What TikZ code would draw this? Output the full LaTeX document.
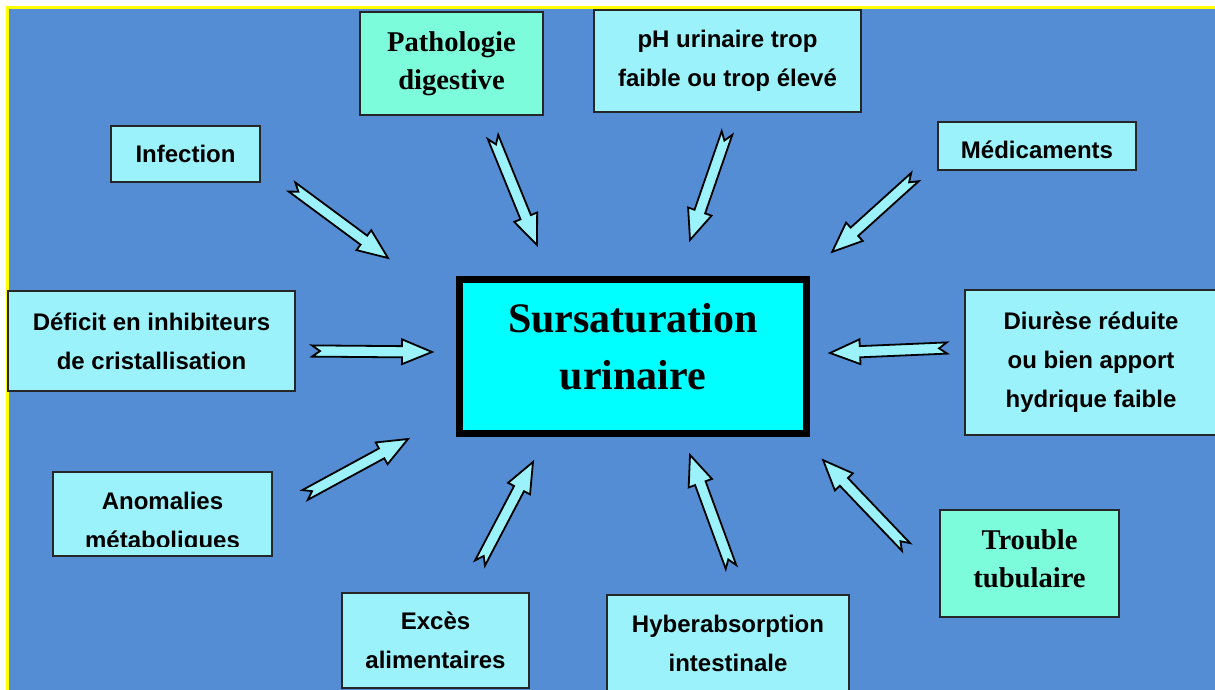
\documentclass[tikz,border=0pt]{standalone}
\usepackage{fontspec}
\setmainfont{Liberation Sans}
\newfontfamily\serifbf{Liberation Serif}
\usetikzlibrary{calc}

\definecolor{fondbleu}{RGB}{85,141,212}
\definecolor{boxcyan}{RGB}{155,242,250}
\definecolor{boxvert}{RGB}{125,252,220}
\definecolor{centrecyan}{RGB}{0,255,255}
\definecolor{cadrejaune}{RGB}{255,255,0}

\tikzset{
  boite/.style={draw=black!85, line width=0.9pt, fill=boxcyan, align=center, inner sep=0pt,
    font=\bfseries\fontsize{12}{19.5}\selectfont},
  boiteserif/.style={boite, fill=boxvert, font=\serifbf\bfseries\fontsize{14.3}{19}\selectfont},
  centre/.style={draw=black, line width=3.5pt, fill=centrecyan, align=center, inner sep=0pt,
    font=\serifbf\bfseries\fontsize{21}{28.5}\selectfont},
  flechestyle/.style={fill=boxcyan, draw=black, line width=0.9pt, line join=miter}
}

% fleche pleine a queue fendue, de #1 vers #2
\newcommand{\fleche}[2]{%
  \path let \p1=($(#2)-(#1)$) in
    \pgfextra{\pgfmathsetmacro{\flen}{veclen(\x1,\y1)}\pgfmathsetmacro{\fang}{atan2(\y1,\x1)}%
      \xdef\flen{\flen}\xdef\fang{\fang}};
  \draw[flechestyle, shift={(#1)}, rotate=\fang]
    (0pt,2.8pt) -- ({\flen*1pt-15pt},2.8pt) -- ({\flen*1pt-15pt},6.2pt) -- ({\flen*1pt},0pt)
    -- ({\flen*1pt-15pt},-6.2pt) -- ({\flen*1pt-15pt},-2.8pt) -- (0pt,-2.8pt) -- (4pt,0pt) -- cycle;
}

\begin{document}
\begin{tikzpicture}[x=0.5pt,y=-0.5pt]
\useasboundingbox (0,0) rectangle (1215,690);
\clip (0,0) rectangle (1215,690);

%fond
\fill[white] (0,0) rectangle (1215,690);
\draw[cadrejaune, line width=1.5pt, fill=fondbleu] (7.5,7.5) rectangle (1230,705);

%centre
\node[centre, minimum width=173.5pt, minimum height=77pt] (sursat) at (633,356.5) {};
\node[centre, draw=none, fill=none] (sursat-txt) at ([yshift=5pt]sursat.center) {Sursaturation\\urinaire};

%causes
\node[boiteserif, minimum width=91.5pt, minimum height=51.5pt] (patho) at (451.5,63.5) {Pathologie\\digestive};
\node[boite, minimum width=133.5pt, minimum height=51pt] (ph) at (727.5,61) {pH urinaire trop\\faible ou trop élevé};
\node[boite, minimum width=74.5pt, minimum height=28pt] (infection) at (185.5,154) {Infection};
\node[boite, minimum width=99pt, minimum height=24pt, text height=12pt, text depth=0pt] (medic) at (1037,146) {Médicaments};
\node[boite, minimum width=143.5pt, minimum height=50pt] (deficit) at (151.5,341) {Déficit en inhibiteurs\\de cristallisation};
\node[boite, minimum width=126pt, minimum height=72.5pt] (diurese) at (1091,362.5) {Diurèse réduite\\ou bien apport\\hydrique faible};
\node[boite, minimum width=109.5pt, minimum height=42pt] (anomalies) at (162.5,514) {};
\begin{scope}
\clip (anomalies.north west) rectangle ([yshift=5pt]anomalies.south east);
\node[boite, draw=none, fill=none] (anomalies-txt) at ([yshift=-4.5pt]anomalies.center) {Anomalies\\métaboliques};
\end{scope}
\node[boite, minimum width=93.5pt, minimum height=47.5pt] (exces) at (435.5,640.5) {Excès\\alimentaires};
\node[boite, minimum width=121pt, minimum height=48pt] (hyper) at (728,643) {Hyberabsorption\\intestinale};
\node[boiteserif, minimum width=89.5pt, minimum height=53.5pt] (trouble) at (1029.5,563.5) {};
\node[boiteserif, draw=none, fill=none] (trouble-txt) at ([yshift=2.5pt]trouble.center) {Trouble\\tubulaire};

%fleches
\coordinate (infection-q) at (292,187); \coordinate (infection-p) at (388,258);
\coordinate (patho-q) at (493,137); \coordinate (patho-p) at (537,245);
\coordinate (ph-q) at (727,133); \coordinate (ph-p) at (690,240);
\coordinate (medic-q) at (915,177); \coordinate (medic-p) at (832,252);
\coordinate (deficit-q) at (312,351); \coordinate (deficit-p) at (432,352);
\coordinate (diurese-q) at (947,348); \coordinate (diurese-p) at (830,353);
\coordinate (anomalies-q) at (305,495); \coordinate (anomalies-p) at (408,439);
\coordinate (exces-q) at (480,563); \coordinate (exces-p) at (533,462);
\coordinate (hyper-q) at (731,567); \coordinate (hyper-p) at (690,455);
\coordinate (trouble-q) at (906,547); \coordinate (trouble-p) at (823,460);

\fleche{infection-q}{infection-p}
\fleche{patho-q}{patho-p}
\fleche{ph-q}{ph-p}
\fleche{medic-q}{medic-p}
\fleche{deficit-q}{deficit-p}
\fleche{diurese-q}{diurese-p}
\fleche{anomalies-q}{anomalies-p}
\fleche{exces-q}{exces-p}
\fleche{hyper-q}{hyper-p}
\fleche{trouble-q}{trouble-p}
\end{tikzpicture}
\end{document}
